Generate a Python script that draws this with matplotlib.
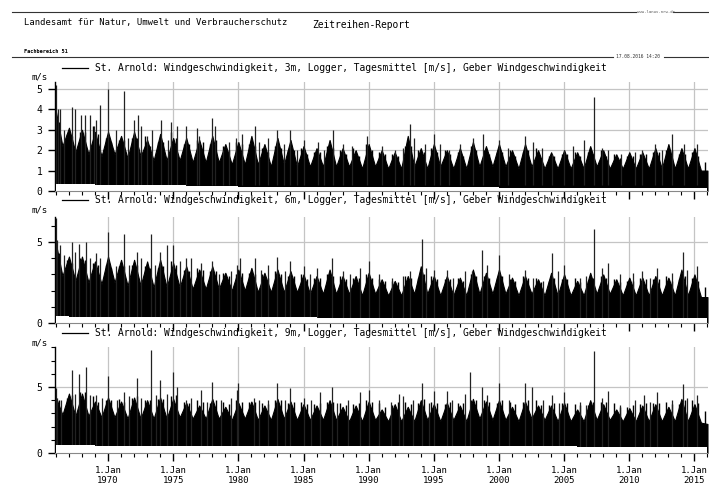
import numpy as np
import matplotlib.pyplot as plt
from matplotlib.lines import Line2D
from matplotlib.ticker import MultipleLocator, FixedLocator

plt.rcParams['font.family'] = ['DejaVu Sans Mono']

W, H = 709, 486

def fx(x):
    return x / W

def fy(y):
    return 1 - y / H

years = np.arange(1966, 2016)
xticks = [1970, 1975, 1980, 1985, 1990, 1995, 2000, 2005, 2010, 2015]

# 3m: upper edge of the dense band, January value and July value per year (m/s)
w3 = [3.9, 3.1, 3.0, 2.9, 2.9, 2.7, 2.9, 2.5, 2.8, 2.6,
      2.6, 2.5, 2.7, 2.3, 2.4, 2.7, 2.3, 2.6, 2.5, 2.2,
      2.1, 2.5, 2.1, 2.0, 2.3, 2.0, 1.9, 2.7, 2.1, 2.3,
      2.0, 2.1, 2.4, 2.2, 2.3, 2.0, 2.3, 2.0, 1.9, 2.0,
      1.9, 2.2, 2.0, 1.8, 1.9, 1.9, 2.1, 2.3, 2.1, 2.1, 1.0]
s3 = [2.2, 1.9, 1.8, 1.7, 1.8, 1.6, 1.7, 1.5, 1.5, 1.5,
      1.4, 1.4, 1.4, 1.3, 1.3, 1.3, 1.2, 1.3, 1.2, 1.2,
      1.2, 1.2, 1.2, 1.1, 1.2, 1.1, 1.1, 1.2, 1.1, 1.2,
      1.1, 1.1, 1.2, 1.2, 1.2, 1.1, 1.2, 1.1, 1.1, 1.1,
      1.1, 1.2, 1.1, 1.1, 1.1, 1.1, 1.1, 1.1, 1.1, 1.0]
lo3 = [0.35, 0.35, 0.35, 0.3, 0.3, 0.3, 0.3, 0.3, 0.3, 0.3,
       0.25, 0.25, 0.25, 0.25, 0.2, 0.2, 0.2, 0.2, 0.2, 0.2,
       0.2, 0.2, 0.2, 0.2, 0.2, 0.2, 0.2, 0.2, 0.2, 0.2,
       0.2, 0.2, 0.2, 0.2, 0.15, 0.15, 0.15, 0.15, 0.15, 0.15,
       0.15, 0.15, 0.15, 0.15, 0.15, 0.15, 0.15, 0.15, 0.15, 0.15]
# typical spring (Apr) and autumn (Oct/Nov) daily highs per year
ps3 = [3.4, 2.7, 2.9, 2.8, 2.4, 2.5, 2.6, 2.2, 2.4, 2.6,
       2.3, 2.4, 2.5, 2.0, 2.3, 2.2, 1.9, 2.1, 2.0, 1.8,
       1.9, 2.1, 1.8, 1.7, 2.0, 1.8, 1.7, 2.2, 1.9, 1.9,
       1.8, 1.7, 2.0, 1.8, 1.9, 1.7, 2.0, 1.6, 1.7, 1.8,
       1.7, 1.8, 1.7, 1.6, 1.7, 1.8, 1.9, 2.0, 1.8, 1.7]
pa3 = [2.8, 2.9, 3.2, 2.6, 2.5, 2.6, 2.7, 2.4, 2.9, 2.3,
       2.5, 2.3, 2.2, 2.4, 2.3, 2.1, 2.2, 2.0, 2.1, 1.9,
       2.2, 2.0, 2.1, 2.3, 1.9, 1.8, 2.2, 2.0, 2.1, 2.0,
       1.9, 2.2, 2.0, 1.9, 2.0, 1.9, 2.1, 1.7, 1.8, 1.9,
       1.9, 2.0, 1.8, 1.7, 1.8, 1.9, 2.0, 1.8, 1.9, 1.4]
spk3_t = [1966.0, 1966.15, 1966.3, 1966.6, 1967.2, 1967.5, 1967.9, 1968.2, 1968.6, 1968.9,
          1969.1, 1969.4, 1970.0, 1970.6, 1971.2, 1971.5, 1972.0, 1972.3, 1972.5, 1973.0,
          1973.4, 1974.1, 1974.6, 1974.8, 1975.3, 1976.0, 1976.8, 1977.0, 1978.0, 1978.2,
          1978.8, 1979.3, 1979.8, 1980.3, 1981.3, 1981.6, 1982.3, 1983.0, 1983.5, 1984.0,
          1984.5, 1985.0, 1986.1, 1986.6, 1987.3, 1988.0, 1988.7, 1989.9, 1991.0, 1992.0,
          1992.6, 1993.2, 1993.5, 1994.3, 1995.0, 1995.5, 1996.2, 1997.0, 1998.0, 1998.8,
          2000.0, 2000.7, 2002.0, 2002.6, 2003.3, 2004.1, 2005.0, 2005.7, 2006.5, 2007.3,
          2007.9, 2008.4, 2009.4, 2010.4, 2011.0, 2012.0, 2012.5, 2013.3, 2014.2, 2015.2]
spk3_v = [5.2, 4.0, 4.0, 3.0, 4.1, 4.0, 3.7, 3.7, 3.7, 3.2,
          3.5, 4.2, 5.0, 3.0, 4.9, 2.6, 3.5, 3.7, 3.2, 2.7,
          3.0, 3.5, 2.5, 3.4, 3.2, 3.2, 3.1, 2.7, 3.6, 3.2,
          2.0, 2.4, 2.6, 2.8, 3.2, 2.4, 2.6, 3.0, 2.3, 3.0,
          2.0, 2.5, 2.4, 2.0, 3.0, 2.3, 2.2, 2.7, 2.2, 2.0,
          2.1, 3.3, 2.6, 2.3, 2.8, 2.3, 2.0, 2.3, 2.6, 2.8,
          2.5, 2.1, 2.7, 2.4, 2.1, 1.8, 2.0, 2.2, 2.5, 4.6,
          2.1, 2.0, 1.8, 1.9, 2.0, 2.3, 2.0, 2.8, 2.3, 2.3]

# 6m
w6 = [4.9, 4.1, 4.1, 3.8, 4.1, 3.9, 3.9, 3.8, 3.9, 3.7,
      3.5, 3.3, 3.5, 3.1, 3.3, 3.4, 3.1, 3.3, 3.2, 3.0,
      2.9, 3.3, 2.9, 2.9, 3.1, 2.7, 2.6, 2.9, 3.5, 2.9,
      2.9, 2.8, 3.3, 3.1, 3.3, 2.8, 2.9, 2.7, 3.1, 3.0,
      2.6, 3.1, 3.0, 2.7, 2.8, 2.8, 2.9, 2.8, 3.3, 3.0, 1.6]
s6 = [2.9, 2.6, 2.5, 2.4, 2.5, 2.3, 2.3, 2.2, 2.2, 2.2,
      2.1, 2.1, 2.1, 2.0, 2.0, 1.9, 1.9, 1.9, 1.9, 1.8,
      1.8, 1.8, 1.8, 1.7, 1.8, 1.7, 1.7, 1.8, 1.8, 1.7,
      1.7, 1.7, 1.8, 1.8, 1.8, 1.7, 1.8, 1.7, 1.7, 1.7,
      1.7, 1.8, 1.8, 1.7, 1.7, 1.7, 1.7, 1.7, 1.7, 1.6]
lo6 = [0.45, 0.4, 0.4, 0.4, 0.4, 0.4, 0.4, 0.4, 0.4, 0.4,
       0.35, 0.35, 0.35, 0.35, 0.35, 0.35, 0.35, 0.35, 0.35, 0.35,
       0.3, 0.3, 0.3, 0.3, 0.3, 0.3, 0.3, 0.3, 0.3, 0.3,
       0.3, 0.3, 0.3, 0.3, 0.3, 0.3, 0.3, 0.3, 0.3, 0.3,
       0.3, 0.3, 0.3, 0.3, 0.3, 0.3, 0.3, 0.3, 0.3, 0.3]
ps6 = [4.3, 3.7, 3.9, 3.6, 3.4, 3.5, 3.6, 3.4, 3.5, 3.6,
       3.2, 3.3, 3.2, 2.9, 3.1, 3.0, 2.8, 3.0, 2.9, 2.7,
       2.8, 2.9, 2.7, 2.8, 2.8, 2.6, 2.5, 2.8, 3.0, 2.7,
       2.7, 2.6, 2.9, 2.8, 2.9, 2.6, 2.8, 2.5, 2.8, 2.7,
       2.5, 2.8, 2.8, 2.5, 2.6, 2.7, 2.7, 2.6, 2.9, 2.6]
pa6 = [3.9, 4.0, 3.7, 3.6, 3.5, 3.6, 3.5, 3.4, 3.8, 3.3,
       3.4, 3.2, 3.1, 3.0, 3.1, 3.0, 3.2, 2.9, 3.0, 2.8,
       3.0, 2.9, 2.8, 3.0, 2.7, 2.6, 2.9, 2.8, 2.9, 2.7,
       2.8, 3.0, 2.9, 2.8, 2.7, 2.9, 2.8, 2.6, 2.7, 2.8,
       2.6, 2.9, 2.7, 2.6, 2.8, 2.7, 2.9, 2.7, 2.8, 2.2]
spk6_t = [1966.0, 1966.1, 1966.3, 1966.6, 1967.2, 1967.5, 1967.8, 1968.3, 1968.6, 1969.1,
          1969.4, 1970.0, 1970.6, 1971.2, 1971.6, 1972.2, 1972.5, 1973.3, 1973.6, 1974.0,
          1974.5, 1975.0, 1975.5, 1976.0, 1976.4, 1977.1, 1978.0, 1978.5, 1979.4, 1979.9,
          1980.1, 1981.3, 1981.7, 1982.3, 1983.0, 1983.6, 1984.0, 1985.0, 1985.5, 1986.0,
          1987.2, 1988.0, 1988.6, 1989.3, 1990.0, 1990.8, 1991.8, 1992.6, 1993.2, 1994.1,
          1994.4, 1995.0, 1996.0, 1996.5, 1997.4, 1997.9, 1998.7, 1999.1, 2000.0, 2000.8,
          2002.0, 2002.6, 2003.4, 2004.1, 2004.5, 2005.0, 2006.2, 2006.7, 2007.3, 2007.9,
          2008.4, 2009.3, 2010.3, 2011.0, 2011.6, 2012.1, 2013.3, 2014.1, 2014.4, 2015.2]
spk6_v = [6.5, 5.1, 4.8, 4.2, 5.0, 4.4, 4.9, 5.0, 4.0, 4.3,
          4.0, 5.6, 3.5, 5.5, 3.6, 4.4, 4.0, 5.5, 3.6, 4.4,
          4.8, 4.8, 3.8, 4.0, 4.0, 3.7, 3.8, 3.0, 3.2, 3.6,
          4.0, 4.0, 3.3, 3.6, 4.1, 3.2, 3.8, 3.5, 3.0, 3.4,
          4.0, 3.2, 3.0, 3.4, 3.8, 3.0, 2.8, 2.9, 3.2, 5.2,
          3.4, 3.3, 3.3, 2.8, 3.2, 3.2, 4.5, 3.6, 4.2, 3.0,
          3.3, 2.8, 2.6, 4.3, 3.2, 3.6, 2.8, 2.9, 5.8, 3.4,
          3.7, 3.0, 3.1, 3.2, 2.8, 3.4, 3.1, 4.4, 3.3, 3.5]

# 9m
w9 = [4.2, 4.5, 4.5, 3.9, 4.2, 3.9, 4.2, 4.0, 4.2, 4.1,
      3.8, 3.6, 4.1, 3.5, 3.8, 3.9, 3.6, 4.1, 3.9, 3.7,
      3.6, 4.0, 3.5, 3.6, 3.9, 3.3, 3.7, 3.5, 4.0, 3.7,
      3.8, 3.6, 4.1, 3.9, 4.0, 3.5, 3.9, 3.6, 3.6, 3.8,
      3.3, 4.0, 3.7, 3.3, 3.4, 3.6, 3.7, 3.5, 4.1, 3.7, 2.2]
s9 = [2.9, 2.8, 2.8, 2.7, 2.7, 2.6, 2.6, 2.6, 2.6, 2.7,
      2.6, 2.6, 2.6, 2.5, 2.6, 2.5, 2.5, 2.6, 2.5, 2.5,
      2.5, 2.5, 2.4, 2.4, 2.5, 2.4, 2.4, 2.4, 2.5, 2.4,
      2.5, 2.4, 2.6, 2.5, 2.5, 2.4, 2.6, 2.5, 2.4, 2.4,
      2.4, 2.5, 2.5, 2.4, 2.4, 2.4, 2.4, 2.4, 2.4, 2.3]
lo9 = [0.6, 0.6, 0.6, 0.55, 0.55, 0.55, 0.55, 0.55, 0.55, 0.55,
       0.5, 0.5, 0.5, 0.5, 0.5, 0.5, 0.5, 0.5, 0.5, 0.5,
       0.5, 0.5, 0.5, 0.5, 0.5, 0.5, 0.5, 0.5, 0.5, 0.5,
       0.5, 0.5, 0.5, 0.5, 0.5, 0.5, 0.5, 0.5, 0.5, 0.5,
       0.45, 0.45, 0.45, 0.45, 0.45, 0.45, 0.45, 0.45, 0.45, 0.45]
ps9 = [4.0, 4.4, 4.6, 3.9, 4.0, 3.9, 4.3, 4.0, 4.1, 4.4,
       3.8, 3.9, 4.0, 3.7, 3.9, 3.9, 3.7, 4.0, 3.9, 3.7,
       3.8, 3.9, 3.6, 3.8, 3.9, 3.5, 3.9, 3.7, 4.1, 3.8,
       3.9, 3.8, 4.0, 3.9, 4.0, 3.7, 4.0, 3.6, 3.8, 3.8,
       3.6, 3.9, 3.9, 3.5, 3.6, 3.8, 3.8, 3.7, 4.0, 3.8]
pa9 = [4.2, 4.6, 4.3, 4.0, 4.1, 4.2, 4.0, 4.1, 4.3, 3.9,
       4.0, 3.8, 3.9, 4.0, 3.9, 3.8, 4.0, 3.8, 3.9, 3.7,
       3.9, 3.8, 3.7, 4.0, 3.8, 3.6, 3.9, 3.8, 3.9, 3.7,
       3.8, 4.0, 4.0, 3.8, 3.9, 3.9, 4.0, 3.6, 3.8, 3.7,
       3.6, 3.9, 3.8, 3.5, 3.7, 3.8, 3.9, 3.7, 4.0, 3.2]
spk9_t = [1966.0, 1966.1, 1966.4, 1967.2, 1967.5, 1967.8, 1968.3, 1968.6, 1969.1, 1969.5,
          1970.0, 1970.7, 1971.2, 1971.6, 1972.2, 1972.5, 1973.3, 1973.7, 1974.0, 1974.5,
          1975.0, 1975.3, 1976.0, 1976.4, 1977.1, 1977.6, 1978.0, 1978.7, 1979.4, 1979.9,
          1980.0, 1981.2, 1981.6, 1982.3, 1983.0, 1983.6, 1984.0, 1985.0, 1985.6, 1986.3,
          1987.2, 1987.6, 1988.4, 1989.3, 1990.0, 1990.8, 1991.7, 1992.3, 1992.6, 1993.4,
          1994.1, 1994.6, 1995.0, 1996.0, 1996.4, 1997.4, 1997.8, 1998.7, 1999.1, 2000.0,
          2000.8, 2002.0, 2002.5, 2003.4, 2004.1, 2004.6, 2005.0, 2006.2, 2006.7, 2007.3,
          2007.9, 2008.4, 2009.3, 2010.4, 2011.1, 2011.6, 2012.1, 2013.3, 2014.1, 2014.4,
          2015.2]
spk9_v = [4.9, 4.2, 4.0, 6.3, 4.5, 6.0, 6.5, 4.4, 4.4, 4.2,
          5.8, 4.0, 4.6, 4.3, 5.7, 4.2, 7.8, 4.4, 5.5, 4.5,
          6.1, 5.0, 4.0, 4.2, 4.8, 3.9, 5.4, 4.0, 4.2, 4.8,
          5.3, 4.2, 4.0, 4.0, 5.3, 4.0, 4.9, 4.2, 4.0, 4.6,
          5.0, 3.8, 4.0, 4.6, 4.8, 4.0, 3.9, 4.5, 4.3, 4.0,
          5.3, 3.8, 4.7, 4.7, 4.0, 4.5, 6.1, 5.0, 4.4, 5.3,
          4.0, 5.3, 5.0, 4.0, 4.4, 3.8, 4.6, 3.9, 3.6, 7.7,
          4.2, 4.7, 3.6, 4.0, 4.4, 3.9, 4.6, 4.0, 5.2, 4.2,
          4.4]

legend_txt = "St. Arnold: Windgeschwindigkeit, {}, Logger, Tagesmittel [m/s], Geber Windgeschwindigkeit"

panels = [
    # (w, s, lo, spring, autumn, spike t, spike v, label, y0 px, ytop px, ymax, y major, grid y)
    (w3, s3, lo3, ps3, pa3, spk3_t, spk3_v, "3m", 191, 82, 5.34, [0, 1, 2, 3, 4, 5], [1, 2, 3, 4, 5]),
    (w6, s6, lo6, ps6, pa6, spk6_t, spk6_v, "6m", 323, 216.7, 6.56, [0, 5], [5]),
    (w9, s9, lo9, ps9, pa9, spk9_t, spk9_v, "9m", 453, 346.7, 8.05, [0, 5], [5]),
]

fig = plt.figure(figsize=(W / 100, H / 100), dpi=100)

for i, (w, s, lo, ps, pa, st, sv, lab, y0, ytop, ymax, ymaj, gy) in enumerate(panels):
    ax = fig.add_axes([fx(55), fy(y0), (708 - 55) / W, (y0 - ytop) / H])

    t = 1966 + 0.5 * np.arange(len(w) + len(s))
    top = np.empty(len(t))
    top[0::2] = w
    top[1::2] = s
    ax.fill_between(t, 0, top, color='black', lw=0.8, zorder=2)
    ax.vlines(years + 0.25, 0.3, ps, color='black', lw=1.0, zorder=2)
    ax.vlines(years + 0.82, 0.3, pa, color='black', lw=1.0, zorder=2)
    ax.vlines(st, 0.3, sv, color='#222222', lw=0.9, zorder=2)
    ax.fill_between(np.append(years, 2016), 0, np.append(lo, lo[-1]), step='post',
                    color='white', lw=0, zorder=3)

    ax.set_xlim(1965.93, 2016.04)
    ax.set_ylim(0, ymax)

    for x in xticks:
        ax.axvline(x, color='#c4c4c4', lw=0.9, zorder=1)
    for y in gy:
        ax.axhline(y, color='#c4c4c4', lw=0.9, zorder=1)

    for sp in ['top', 'right']:
        ax.spines[sp].set_visible(False)
    ax.spines['left'].set_linewidth(1.0)
    ax.spines['bottom'].set_color('#888888')
    ax.spines['bottom'].set_zorder(4)

    ax.xaxis.set_major_locator(FixedLocator(xticks))
    ax.xaxis.set_minor_locator(MultipleLocator(1))
    ax.yaxis.set_major_locator(FixedLocator(ymaj))
    if len(ymaj) == 2:
        ax.yaxis.set_minor_locator(MultipleLocator(1))
    ax.tick_params(axis='x', which='major', direction='out', length=6, width=1, color='black')
    ax.tick_params(axis='x', which='minor', direction='out', length=3, width=0.8, color='black')
    ax.tick_params(axis='y', which='major', direction='out', length=5, width=1,
                   labelsize=7, pad=4)
    ax.tick_params(axis='y', which='minor', direction='out', length=3, width=0.8)
    if i < 2:
        ax.set_xticklabels([])
    else:
        ax.set_xticklabels(["1.Jan\n%d" % x for x in xticks], fontsize=6.5, linespacing=1.1)

    ly = [68, 200, 333][i]
    my = [77, 210, 343][i]
    fig.add_artist(Line2D([fx(62), fx(88)], [fy(ly), fy(ly)], color='black', lw=0.9))
    fig.text(fx(95), fy(ly), legend_txt.format(lab), fontsize=6.9, va='center', ha='left')
    fig.text(fx(31), fy(my), "m/s", fontsize=6.5, va='center', ha='left')

# header
fig.add_artist(Line2D([fx(12), fx(636)], [fy(11.7)] * 2, color='#333333', lw=0.8))
fig.add_artist(Line2D([fx(673), fx(709)], [fy(11.7)] * 2, color='#333333', lw=0.8))
fig.text(fx(656), fy(11.7), "www.lanuv.nrw.de", fontsize=2.8, color='#555555', ha='center', va='center')
fig.text(fx(24), fy(22), "Landesamt für Natur, Umwelt und Verbraucherschutz", fontsize=6.4, va='center')
fig.text(fx(312), fy(25.5), "Zeitreihen-Report", fontsize=6.9, va='center')
fig.text(fx(24), fy(51.5), "Fachbereich 51", fontsize=3.8, weight='bold', va='center')
fig.add_artist(Line2D([fx(12), fx(613)], [fy(56.7)] * 2, color='#333333', lw=0.8))
fig.add_artist(Line2D([fx(664), fx(709)], [fy(56.7)] * 2, color='#333333', lw=0.8))
fig.text(fx(638), fy(56.7), "17.08.2016 14:20", fontsize=3.3, color='#333333', ha='center', va='center')

fig.savefig("out.png", dpi=100)
